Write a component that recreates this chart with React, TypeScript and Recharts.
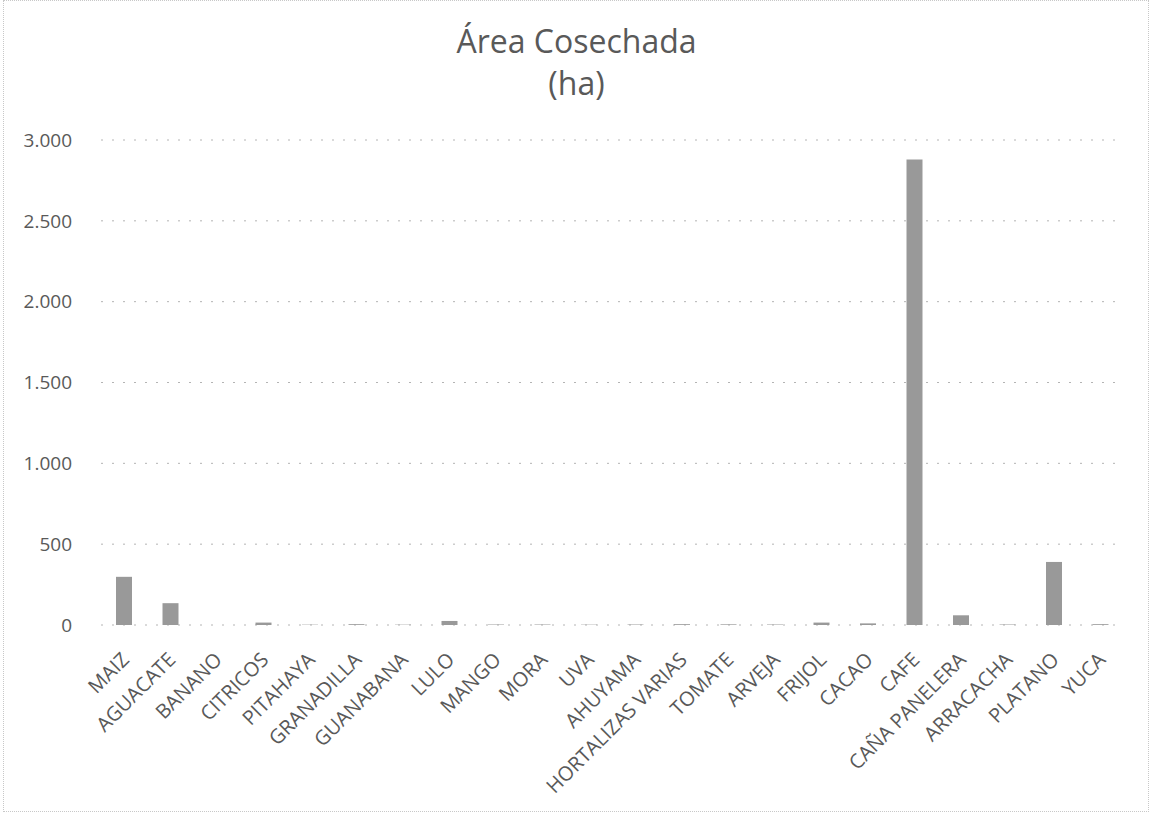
import { BarChart, Bar, XAxis, YAxis, CartesianGrid } from 'recharts';

const cultivos = [
  'MAIZ', 'AGUACATE', 'BANANO', 'CITRICOS', 'PITAHAYA', 'GRANADILLA', 'GUANABANA',
  'LULO', 'MANGO', 'MORA', 'UVA', 'AHUYAMA', 'HORTALIZAS VARIAS', 'TOMATE',
  'ARVEJA', 'FRIJOL', 'CACAO', 'CAFE', 'CAÑA PANELERA', 'ARRACACHA', 'PLATANO', 'YUCA',
];
const areaHa = [
  298, 135, 0, 15, 2, 5, 2,
  25, 3, 3, 2, 3, 5, 4,
  3, 15, 10, 2880, 60, 3, 390, 5,
];
const yTicks = [0, 500, 1000, 1500, 2000, 2500, 3000];

const data = cultivos.map((name, i) => ({ name, area: areaHa[i] }));

const grey = '#595959';
const font = '"Open Sans", sans-serif';

// separador de miles con punto: 3.000
const fmt = (v: number) => String(v).replace(/\B(?=(\d{3})+(?!\d))/g, '.');

function CropTick({ x, y, payload }: any) {
  return (
    <g transform={`translate(${x + 6},${y + 28})`}>
      <text x={0} y={0} textAnchor="end" transform="rotate(-45)" fill={grey} fontSize={20} fontFamily={font}>
        {payload.value}
      </text>
    </g>
  );
}

export default function App() {
  return (
    <div style={{ position: 'absolute', left: 0, top: 0, width: 1153, height: 816, background: '#fff' }}>
      <div
        style={{
          position: 'absolute', left: 3, top: 0, width: 1146, height: 812,
          border: '1px dotted #c8c8c8', boxSizing: 'border-box',
        }}
      />
      <div
        style={{
          position: 'absolute', left: 0, top: 20, width: 1153, textAlign: 'center',
          fontFamily: font, fontSize: 32, lineHeight: '42px', color: grey,
        }}
      >
        Área Cosechada
        <br />
        (ha)
      </div>
      <BarChart
        width={1153}
        height={816}
        data={data}
        margin={{ top: 140, right: 29, bottom: 21, left: 0 }}
        barSize={16}
      >
        <CartesianGrid vertical={false} stroke="#b4b4b4" strokeDasharray="2 9" />
        <XAxis
          dataKey="name"
          interval={0}
          height={170}
          axisLine={false}
          tickLine={false}
          tick={<CropTick />}
        />
        <YAxis
          width={101}
          domain={[0, 3000]}
          ticks={yTicks}
          tickFormatter={fmt}
          axisLine={false}
          tickLine={false}
          tickMargin={23}
          tick={{ fill: grey, fontSize: 19, fontFamily: font }}
        />
        <Bar dataKey="area" fill="#999999" isAnimationActive={false} />
      </BarChart>
    </div>
  );
}
